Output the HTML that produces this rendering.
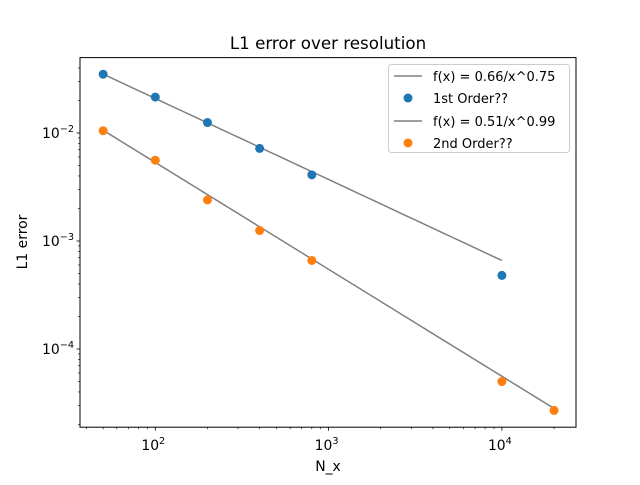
<!DOCTYPE html>
<html><head><meta charset="utf-8"><style>
body{margin:0;background:#fff}
svg text{font-family:"DejaVu Sans","Liberation Sans",sans-serif;fill:#000}
</style></head><body>
<svg id="chart" width="640" height="480" xmlns="http://www.w3.org/2000/svg">
<rect width="640" height="480" fill="#fff"/>
<text x="328" y="49" font-size="16.7" text-anchor="middle">L1 error over resolution</text>
<g id="marks"></g>
<rect x="80" y="57.6" width="496" height="369.6" fill="none" stroke="#000" stroke-width="1"/>
<g id="ticks"></g>
<text x="328" y="471" font-size="13.9" text-anchor="middle">N_x</text>
<text transform="translate(27,242) rotate(-90)" font-size="13.9" text-anchor="middle">L1 error</text>
<g>
<rect x="388.5" y="64.5" width="181" height="88" rx="3" fill="#fff" fill-opacity="0.8" stroke="#ccc"/>
<line x1="394" y1="76" x2="422" y2="76" stroke="#808080" stroke-width="1.5"/>
<text x="433" y="81" font-size="13">f(x) = 0.66/x^0.75</text>
<circle cx="408" cy="98" r="4.5" fill="#1f77b4"/>
<text x="433" y="103" font-size="13">1st Order??</text>
<line x1="394" y1="121" x2="422" y2="121" stroke="#808080" stroke-width="1.5"/>
<text x="433" y="126" font-size="13">f(x) = 0.51/x^0.99</text>
<circle cx="408" cy="143" r="4.5" fill="#ff7f0e"/>
<text x="433" y="148" font-size="13">2nd Order??</text>
</g>
</svg>
<script>
const xs1=[50,100,200,400,800,10000];
const ys1=[0.035,0.0215,0.0125,0.0072,0.0041,0.00048];
const xs2=[50,100,200,400,800,10000,20000];
const ys2=[0.0105,0.0056,0.0024,0.00125,0.00066,0.00005,0.000027];
const fit1=[0.66,0.75,50,10000];
const fit2=[0.51,0.99,50,20000];
const xTicks=[2,3,4];
const yTicks=[-2,-3,-4];
const NS="http://www.w3.org/2000/svg";
function X(v){return 155.3+(Math.log10(v)-2)*173.3;}
function Y(v){return 133+(-2-Math.log10(v))*108;}
const marks=document.getElementById('marks'),ticks=document.getElementById('ticks');
function mk(tag,a,p){const e=document.createElementNS(NS,tag);for(const k in a)e.setAttribute(k,a[k]);p.appendChild(e);return e;}
[[fit1,'fit-line-first-order'],[fit2,'fit-line-second-order']].forEach(([f,n])=>{
  let d='';for(let i=0;i<=50;i++){const lx=Math.log10(f[2])+(Math.log10(f[3])-Math.log10(f[2]))*i/50;const x=Math.pow(10,lx);const y=f[0]*Math.pow(x,-f[1]);d+=(i?'L':'M')+X(x).toFixed(2)+','+Y(y).toFixed(2);}
  const p=mk('path',{d:d,fill:'none',stroke:'#808080','stroke-width':1.5},marks);
  
  
});
[[xs1,ys1,'#1f77b4','first-order-point'],[xs2,ys2,'#ff7f0e','second-order-point']].forEach(([xs,ys,c,n])=>{
  xs.forEach((x,i)=>{const e=mk('circle',{cx:X(x),cy:Y(ys[i]),r:4.5,fill:c},marks);
  
  });
});
for(let dec=1;dec<=4;dec++)for(let m=1;m<10;m++){const v=m*Math.pow(10,dec);const x=X(v);if(x<80||x>576)continue;
  mk('line',{x1:x,y1:427.2,x2:x,y2:427.2+(m==1?3.5:2),stroke:'#000','stroke-width':m==1?0.8:0.6},ticks);}
xTicks.forEach(t=>{const g=mk('text',{x:X(Math.pow(10,t))-2,y:450,'font-size':13.9,'text-anchor':'middle'},ticks);
  
  
  g.innerHTML='10<tspan dy="-6" font-size="9.7">'+t+'</tspan>';});
for(let dec=-5;dec<=-1;dec++)for(let m=1;m<10;m++){const v=m*Math.pow(10,dec);const y=Y(v);if(y<57.6||y>427.2)continue;
  mk('line',{x1:80,y1:y,x2:80-(m==1?3.5:2),y2:y,stroke:'#000','stroke-width':m==1?0.8:0.6},ticks);}
yTicks.forEach(t=>{const g=mk('text',{x:74,y:Y(Math.pow(10,t))+5,'font-size':13.9,'text-anchor':'end'},ticks);
  
  
  g.innerHTML='10<tspan dy="-6" font-size="9.7">\u2212'+(-t)+'</tspan>';});
</script>
</body></html>
